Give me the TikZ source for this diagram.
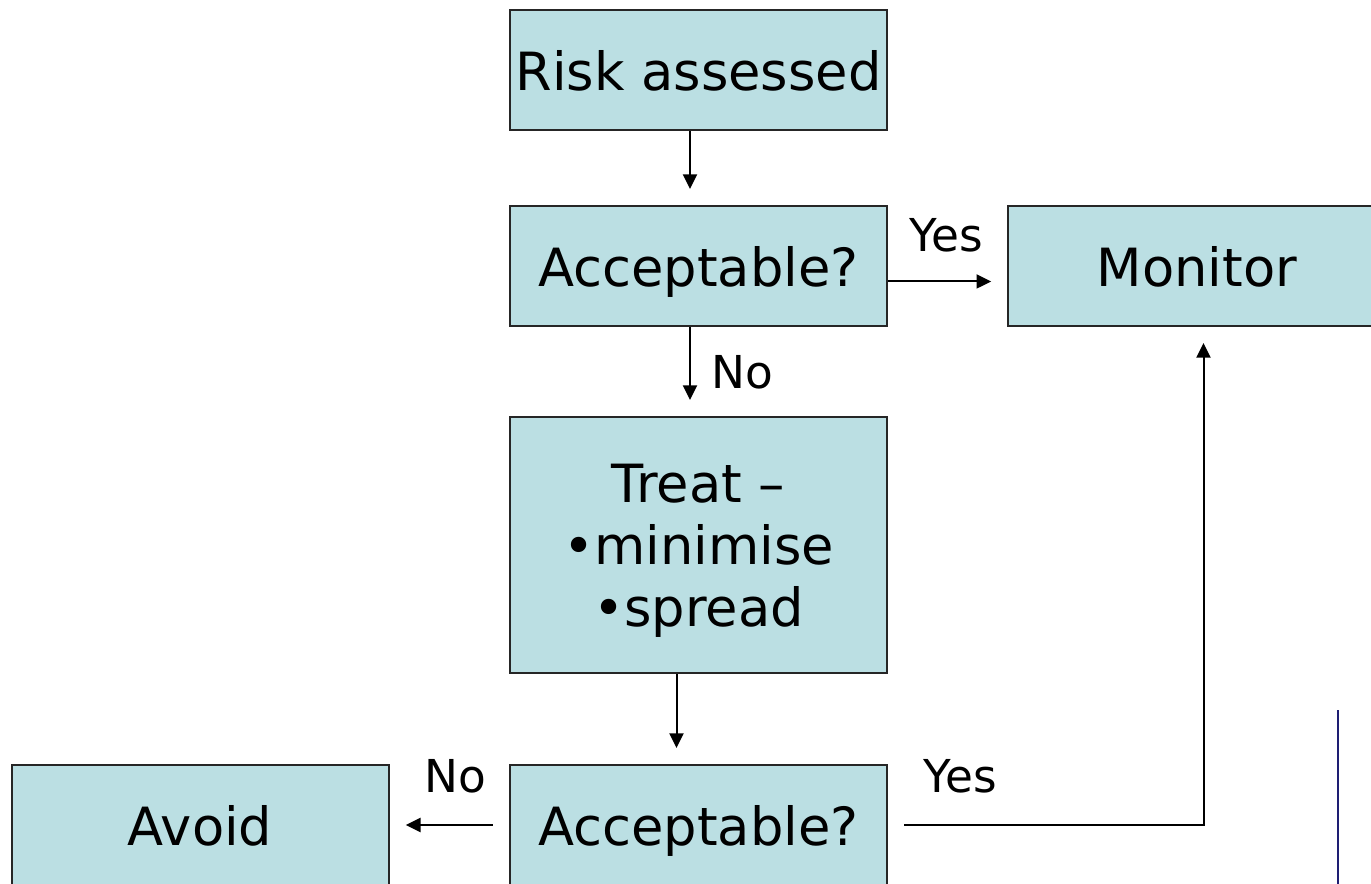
\documentclass[tikz,border=0pt]{standalone}
\usepackage{fontspec}
\setmainfont{DejaVu Sans}
\usetikzlibrary{arrows.meta, positioning}
\definecolor{boxblue}{RGB}{187,223,227}
\definecolor{slidenavy}{RGB}{30,30,115}

\begin{document}
\begin{tikzpicture}[
    x=0.75pt, y=-0.75pt,
    % box and label styles
    box/.style={rectangle, draw=black!85, line width=1.5pt, fill=boxblue, minimum width=283pt, minimum height=90pt, align=center, inner sep=0pt, text depth=0pt, font=\fontsize{39.5}{46.5}\selectfont},
    lbl/.style={inner sep=0pt, font=\fontsize{34}{40}\selectfont},
    arrow/.style={-{Triangle[length=11pt, width=10.5pt]}, line width=1.5pt, shorten >=12pt},
    node distance=55.5pt and 89.25pt
]

\clip (0,0) rectangle (1371,884);

% main column
\node (risk) [box] at (698.5,70) {Risk assessed};
\node (acc1) [box, below=of risk] {Acceptable?};
\node (treat) [box, minimum height=192pt, below=66.75pt of acc1] {Treat –\\•minimise\\•spread};
\node (acc2) [box, below=67.5pt of treat] {Acceptable?};

% side boxes
\node (monitor) [box, right=of acc1] {Monitor};
\node (avoid) [box, left=of acc2] {Avoid};

% labels
\node (yes1) [lbl] at (946,235) {Yes};
\node (no1) [lbl] at (742,372) {No};
\node (no2) [lbl] at (455,776) {No};
\node (yes2) [lbl] at (960,776) {Yes};

% arrows
\draw [arrow] ([xshift=-6.4pt]risk.south) -- ([xshift=-6.4pt]acc1.north);
\draw [arrow] ([yshift=-11.6pt]acc1.east) -- ([yshift=-11.6pt]monitor.west);
\draw [arrow] ([xshift=-6.4pt]acc1.south) -- ([xshift=-6.4pt]treat.north);
\draw [arrow] ([xshift=-16.5pt]treat.south) -- ([xshift=-16.5pt]acc2.north);
\draw [arrow, shorten <=12pt] (acc2) -- (avoid);
\draw [arrow, shorten <=12pt] (acc2.east) -| ([xshift=5pt]monitor.south);

% slide edge
\draw [slidenavy, line width=2.2pt] (1338,710) -- (1338,884);

\end{tikzpicture}
\end{document}
